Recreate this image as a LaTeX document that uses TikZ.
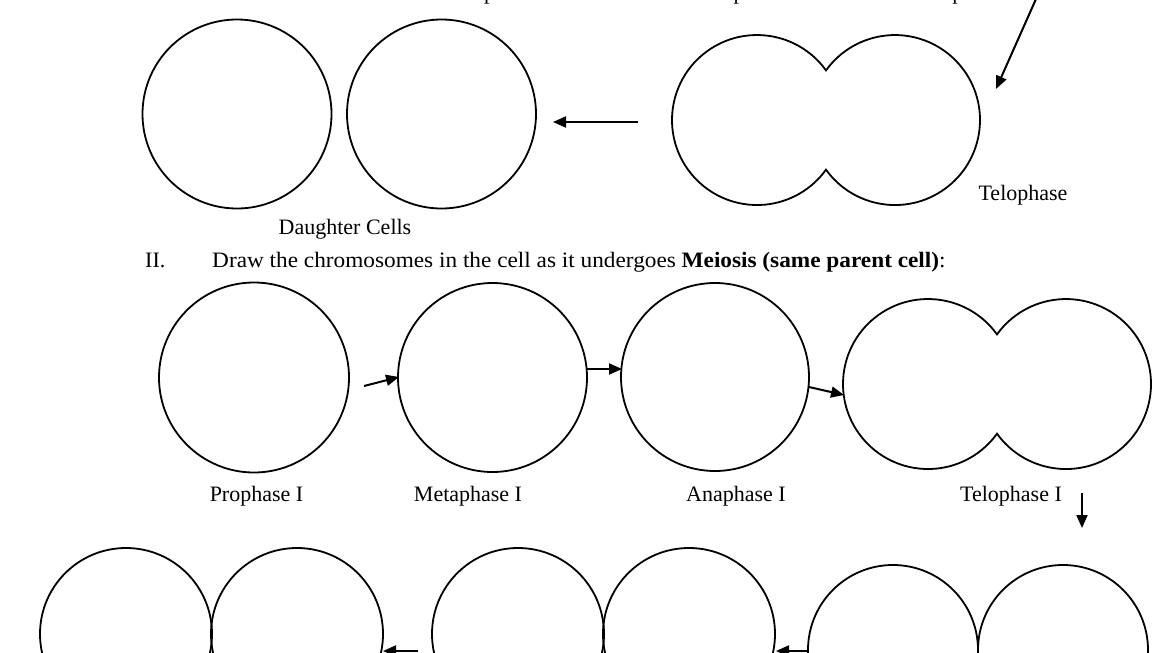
\documentclass[tikz,border=0pt]{standalone}
\usepackage{fontspec}
\setmainfont{Liberation Serif}
\usetikzlibrary{arrows.meta}
\begin{document}
\begin{tikzpicture}[x=1pt,y=-1pt,
  cell/.style={circle,draw,line width=1.8pt,inner sep=0pt,minimum size=#1pt},
  arr/.style={line width=2pt,-{Triangle[length=13pt,width=11pt]}},
  lab/.style={font=\fontsize{22}{26}\selectfont,anchor=base,inner sep=0pt},
  telo/.pic={\draw[line width=1.8pt] (0,-49.6) arc[start angle=-35.73,end angle=-324.27,radius=85]
      arc[start angle=144.27,end angle=-144.27,radius=85] -- cycle;}]
\useasboundingbox (0,0) rectangle (1160,653);
\clip (0,0) rectangle (1160,653);
% ---- cut-off labels of the row above ----
\node[lab] (prom) at (494,-0.5) {Prophase};
\node[lab] (metam) at (736,-0.5) {Metaphase};
\node[lab] (anam) at (959,-0.5) {Anaphase};
% ---- top row (mitosis end) ----
\node[cell=189] (d1) at (237,114) {};
\node[cell=189] (d2) at (441.5,114) {};
\pic (tel1) at (826,120) {telo};
\coordinate (t1c) at (826,120);
\node[lab] (tellab) at (1023,200) {Telophase};
\node[lab] (dclab) at (345,234) {Daughter Cells};
\coordinate (a1s) at (638,122);
\coordinate (a1e) at (553,122);
\draw[arr] (a1s) -- (a1e);
\coordinate (a0s) at (1040,-10);
\coordinate (a0e) at (996,89);
\draw[arr] (a0s) -- (a0e);
% ---- heading ----
\node[lab,anchor=base west] (h2) at (145,267) {II.};
\node[lab,anchor=base west] (h2t) at (212,267) {\scalebox{1.058}[1]{Draw the chromosomes in the cell as it undergoes \textbf{Meiosis (same parent cell)}:}};
% ---- meiosis row ----
\node[cell=190] (pro) at (254,377.5) {};
\node[cell=189] (meta) at (492.5,377.5) {};
\node[cell=188] (ana) at (715,377) {};
\pic (tel2) at (997,384) {telo};
\coordinate (t2c) at (997,384);
\coordinate (b1s) at (364,386);
\coordinate (b1e) at (399,377);
\coordinate (b2s) at (587,369);
\coordinate (b2e) at (622,369);
\coordinate (b3s) at (809,387);
\coordinate (b3e) at (844,395);
\draw[arr] (b1s) -- (b1e);
\draw[arr] (b2s) -- (b2e);
\draw[arr] (b3s) -- (b3e);
\node[lab] (prolab) at (256.5,501) {Prophase I};
\node[lab] (metalab) at (468,501) {Metaphase I};
\node[lab] (analab) at (736,501) {Anaphase I};
\node[lab] (tellab2) at (1011,501) {Telophase I};
\coordinate (c0s) at (1082,493);
\coordinate (c0e) at (1082,528);
\draw[arr] (c0s) -- (c0e);
% ---- bottom row ----
\node[cell=172] (e1) at (126,634) {};
\node[cell=172] (e2) at (297,634) {};
\node[cell=172] (f1) at (518,634) {};
\node[cell=172] (f2) at (689,634) {};
\node[cell=170] (g1) at (893,650) {};
\node[cell=170] (g2) at (1063,650) {};
\coordinate (h1s) at (418,651);
\coordinate (h1e) at (383,651);
\coordinate (h2s) at (808,651);
\coordinate (h2e) at (776,651);
\draw[arr] (h1s) -- (h1e);
\draw[arr] (h2s) -- (h2e);
\end{tikzpicture}
\end{document}
